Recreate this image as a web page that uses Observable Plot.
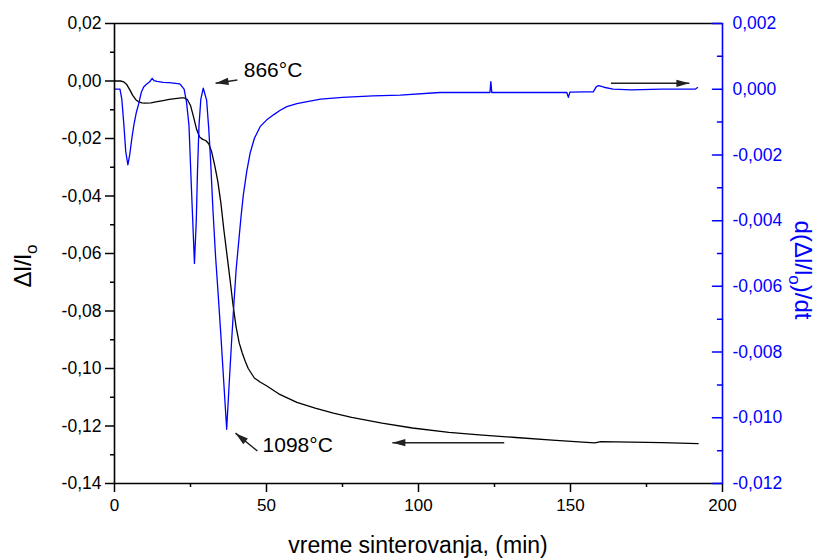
<!DOCTYPE html>
<html><head><meta charset="utf-8">
<script src="https://cdn.jsdelivr.net/npm/d3@7"></script>
<script src="https://cdn.jsdelivr.net/npm/@observablehq/plot@0.6"></script>
<style>
body{margin:0;background:#fff;}
#chart{width:822px;height:560px;}
</style></head><body><div id="chart"></div>
<script>
// ---- data ----
// shrinkage Δl/l0 (left axis), time in min
const shrinkT = [0,2,3,4,5,6,7,8,9,10,12,14,16,18,20,22,23,24,25,26,27,28,29,30,31,32,33,34,35,36,37,38,39,40,41,42,43,44,46,48,50,54,60,66,72,78,88,98,110,120,132,144,154,158,160,170,180,192];
const shrinkV = [0,0,-0.0003,-0.0012,-0.003,-0.005,-0.0065,-0.0073,-0.0076,-0.0077,-0.0076,-0.0072,-0.0068,-0.0064,-0.0061,-0.0059,-0.0059,-0.0065,-0.0085,-0.0125,-0.0168,-0.0195,-0.0203,-0.0207,-0.0218,-0.0248,-0.0295,-0.035,-0.0425,-0.052,-0.0605,-0.069,-0.078,-0.0855,-0.091,-0.0945,-0.0975,-0.1,-0.1033,-0.1048,-0.106,-0.1088,-0.1118,-0.1138,-0.1155,-0.117,-0.119,-0.1207,-0.1222,-0.1231,-0.124,-0.1249,-0.1256,-0.1259,-0.1254,-0.1256,-0.1258,-0.1261];
// rate d(Δl/l0)/dt (right axis)
const rateT = [0,1.8,2.4,3.1,3.7,4.4,5,5.7,6.35,7.2,8,8.8,9.6,10.5,11.5,12.4,13,14,16,18,20,21.5,22.9,23.7,24.5,25.3,26.3,26.9,27.3,27.8,28.4,29.2,30.3,31,31.6,32.4,33.25,34,35,36,36.9,37.7,38.5,39.3,40,40.9,41.6,42.4,43.5,44.6,46,47.9,50,52.3,54.5,56.7,60,63.4,67.8,75,85,94,107,115,123.5,123.8,124.1,135,140,148.8,149.3,149.8,155,157.5,158.5,159.3,161,164,170,180,191,191.8];
const rateV = [0,0,-0.0003,-0.0011,-0.0019,-0.0023,-0.002,-0.0015,-0.0011,-0.0007,-0.00043,-0.0001,0.00007,0.00015,0.00022,0.00033,0.00026,0.00024,0.00021,0.0002,0.00018,0.00016,0,-0.0004,-0.0011,-0.003,-0.0053,-0.004,-0.0025,-0.0011,-0.0003,0.00003,-0.00033,-0.0012,-0.00215,-0.0037,-0.0051,-0.0061,-0.0075,-0.009,-0.01035,-0.009,-0.0077,-0.0065,-0.0055,-0.0046,-0.0039,-0.0032,-0.0025,-0.00195,-0.0015,-0.00114,-0.00094,-0.00078,-0.00064,-0.00053,-0.00044,-0.00038,-0.0003,-0.00025,-0.0002,-0.00018,-0.0001,-0.0001,-0.0001,0.00023,-0.0001,-0.0001,-0.0001,-0.0001,-0.00025,-0.00009,-0.00008,-0.00008,0.00008,0.00011,0.00006,0,-0.00002,0,0,0.00005];

const xTicks = [0,50,100,150,200];
const xMinor = [25,75,125,175];
const leftTicks = [-0.14,-0.12,-0.10,-0.08,-0.06,-0.04,-0.02,0,0.02];
const leftMinor = [-0.13,-0.11,-0.09,-0.07,-0.05,-0.03,-0.01,0.01];
const rightTicks = [-0.012,-0.010,-0.008,-0.006,-0.004,-0.002,0,0.002];
const rightMinor = [-0.011,-0.009,-0.007,-0.005,-0.003,-0.001,0.001];
const rightDomain = [-0.012, 0.002];
const leftDomain = [-0.14, 0.02];

const noteText = ["866°C","1098°C"];
const noteT = [42.5, 48.7];
const noteV = [0.0036, -0.1268];
// arrows: start (t1,v1 on left axis) -> tip (t2,v2)
const arrT1 = [40.4, 47.0, 128.2, 163.3];
const arrV1 = [0.00035, -0.1287, -0.1258, -0.0008];
const arrT2 = [33.25, 39.8, 91.4, 189.1];
const arrV2 = [-0.0008, -0.1225, -0.1258, -0.0008];

// ---- build ----
const W = 822, H = 560, mL = 114, mR = 100, mT = 23, mB = 77;
const toLeft = v => leftDomain[0] + (v - rightDomain[0]) * (leftDomain[1]-leftDomain[0])/(rightDomain[1]-rightDomain[0]);
const toRight = y => rightDomain[0] + (y - leftDomain[0]) * (rightDomain[1]-rightDomain[0])/(leftDomain[1]-leftDomain[0]);
const shrink = shrinkT.map((t,i)=>({t, v: shrinkV[i]}));
const rate = rateT.map((t,i)=>({t, v: rateV[i]}));
const notes = noteText.map((s,i)=>({s, t: noteT[i], v: noteV[i]}));
const kx = (W-mL-mR)/200, ky = (H-mT-mB)/(leftDomain[1]-leftDomain[0]);
const arrows = arrT1.map((t1,i)=>{
  const dxp = (arrT2[i]-t1)*kx, dyp = -(arrV2[i]-arrV1[i])*ky;
  return {t1, v1: arrV1[i], t2: arrT2[i], v2: arrV2[i], ang: Math.atan2(dxp, -dyp)*180/Math.PI};
});
const fmt = n => d => d3.format(`.${n}f`)(d).replace(".", ",").replace("−","-");
const head = {draw(ctx, l) { ctx.moveTo(0,0); ctx.lineTo(-3.6, l); ctx.lineTo(3.6, l); ctx.closePath(); }};
const stick = {draw(ctx, l) { ctx.moveTo(0,0); ctx.lineTo(0, -l); }};
const BLUE = "#0000ff";

const svg = Plot.plot({
  width: W, height: H, marginLeft: mL, marginRight: mR, marginTop: mT, marginBottom: mB,
  style: {fontFamily: "'Liberation Sans', Arial, sans-serif", fontSize: "17px", background: "#fff", color: "#000"},
  x: {domain: [0,200]},
  y: {domain: leftDomain},
  marks: [
    Plot.line(shrink, {x: "t", y: "v", stroke: "#000", strokeWidth: 1.3}),
    Plot.line(rate, {x: "t", y: d => toLeft(d.v), stroke: BLUE, strokeWidth: 1.3}),
    Plot.link(arrows, {x1: "t1", y1: "v1", x2: "t2", y2: "v2", stroke: "#222", strokeWidth: 1.5}),
    Plot.vector(arrows, {x: "t2", y: "v2", rotate: "ang", length: 13, anchor: "start", shape: head, fill: "#222", stroke: "none"}),
    Plot.text(notes, {x: "t", y: "v", text: "s", textAnchor: "start", fontSize: 21}),
    Plot.ruleY([leftDomain[1]], {stroke: "#000", strokeWidth: 1.6}),
    Plot.ruleY([leftDomain[0]], {stroke: "#000", strokeWidth: 1.6}),
    Plot.ruleX([0], {stroke: "#000", strokeWidth: 1.6}),
    Plot.ruleX([200], {stroke: BLUE, strokeWidth: 1.6}),
    Plot.axisX({ticks: xTicks, tickSize: 9, tickPadding: 6, tickFormat: d => String(d), label: null, fontSize: 17, strokeWidth: 1.5}),
    Plot.axisX({ticks: xMinor, tickSize: 4, tickFormat: () => "", label: null, strokeWidth: 1.5}),
    Plot.axisY({ticks: leftTicks, anchor: "left", tickSize: 9, tickPadding: 4, tickFormat: fmt(2), label: null, fontSize: 17.5, strokeWidth: 1.5}),
    Plot.axisY({ticks: leftMinor, anchor: "left", tickSize: 4, tickFormat: () => "", label: null, strokeWidth: 1.5}),
    // right axis: inward ticks
    Plot.vector(rightTicks, {y: d => toLeft(d), frameAnchor: "right", rotate: -90, length: 10, anchor: "start", shape: stick, stroke: BLUE, strokeWidth: 1.5}),
    Plot.vector(rightMinor, {y: d => toLeft(d), frameAnchor: "right", rotate: -90, length: 5, anchor: "start", shape: stick, stroke: BLUE, strokeWidth: 1.5}),
    Plot.axisY({ticks: rightTicks.map(toLeft), anchor: "right", tickSize: 0, tickPadding: 10, tickFormat: d => fmt(3)(toRight(d)), label: null, fill: BLUE, stroke: "none", fontSize: 17.5})
  ]
});
const s = d3.select(svg);
// axis titles with subscripts
s.append("text").attr("x", 418).attr("y", 553).attr("text-anchor","middle").attr("font-size", 23).attr("fill","#000")
  .text("vreme sinterovanja, (min)");
const lt = s.append("text").attr("transform","translate(31,266) rotate(-90)").attr("text-anchor","middle").attr("font-size",24).attr("fill","#000");
lt.append("tspan").text("Δl/l");
lt.append("tspan").attr("font-size",17).attr("dy",6).text("o");
const rt = s.append("text").attr("transform","translate(795,270) rotate(90)").attr("text-anchor","middle").attr("font-size",24).attr("fill",BLUE);
rt.append("tspan").text("d(Δl/l");
rt.append("tspan").attr("font-size",17).attr("dy",6).text("o");
rt.append("tspan").attr("dy",-6).text(")/dt");
document.getElementById("chart").append(svg);
</script></body></html>
